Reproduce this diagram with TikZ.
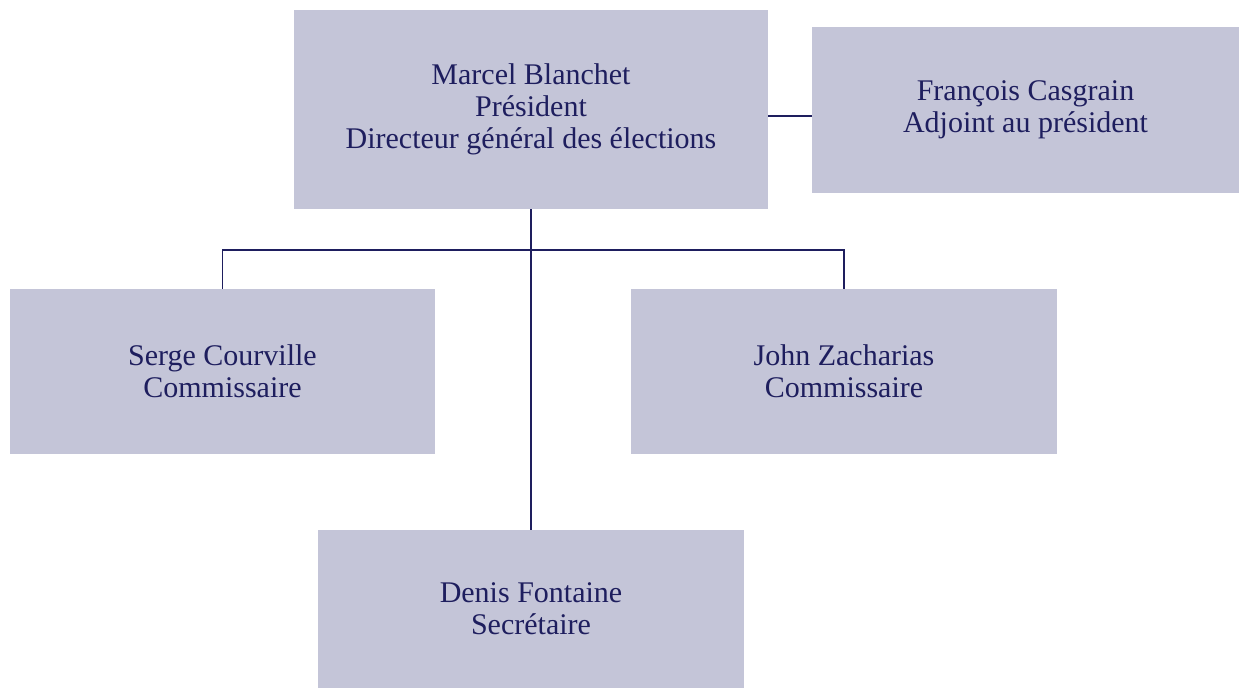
\documentclass[tikz,border=0pt]{standalone}
\usepackage{fontspec}
\setmainfont{Liberation Serif}
\definecolor{boxfill}{HTML}{C4C5D8}
\definecolor{navy}{HTML}{1E1E5E}
\begin{document}
\begin{tikzpicture}[x=1pt,y=-1pt,
  box/.style={fill=boxfill, draw=none, inner sep=0pt, align=center, text=navy,
    font=\fontsize{30}{32}\selectfont},
  link/.style={draw=navy, line width=1.2pt}]
\useasboundingbox (0,0) rectangle (1241,688);
\node[box, minimum width=474pt, minimum height=199pt] (pres) at (531,109.5)
  {Marcel Blanchet\\Président\\Directeur général des élections};
\node[box, minimum width=427pt, minimum height=166pt] (adj) at (1025.5,110)
  {François Casgrain\\Adjoint au président};
\node[box, minimum width=425pt, minimum height=165pt] (serge) at (222.5,371.5)
  {Serge Courville\\Commissaire};
\node[box, minimum width=426pt, minimum height=165pt] (john) at (844,371.5)
  {John Zacharias\\Commissaire};
\node[box, minimum width=426pt, minimum height=158pt] (denis) at (531,609)
  {Denis Fontaine\\Secrétaire};
\coordinate (bar) at (0,250);
\draw[link] (pres.south) -- (denis.north);
\draw[link] (serge.north) -- (serge.north |- bar) -- (john.north |- bar) -- (john.north);
\draw[link] (pres.east |- 0,116) -- (adj.west |- 0,116);
\end{tikzpicture}
\end{document}
